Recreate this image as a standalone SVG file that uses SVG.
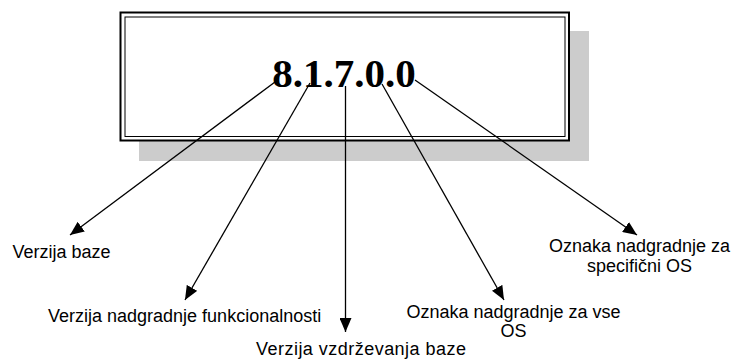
<svg xmlns="http://www.w3.org/2000/svg" width="731" height="360" viewBox="0 0 731 360">
<style>
.lbl{font-family:"Liberation Sans",Arial,sans-serif;font-size:18px;fill:#000}
.con{stroke:#000;stroke-width:1.3;fill:none;marker-end:url(#arr)}
</style>
<defs>
<marker id="arr" viewBox="0 0 14 12" refX="14" refY="6" markerWidth="14" markerHeight="12" markerUnits="userSpaceOnUse" orient="auto">
<path d="M0,0 L14,6 L0,12 z" fill="#000"/>
</marker>
</defs>
<rect width="731" height="360" fill="#fff"/>
<g id="version-box">
<rect x="139" y="31" width="450" height="130" fill="#cccccc"/>
<rect x="120.5" y="12.5" width="448.5" height="128" fill="#fff" stroke="#000" stroke-width="2"/>
<rect x="125" y="17" width="440" height="119.5" fill="none" stroke="#000" stroke-width="1"/>
<text x="344" y="87" text-anchor="middle" font-family="'Liberation Serif','Times New Roman',serif" font-weight="bold" font-size="41">8.1.7.0.0</text>
</g>
<g id="connectors">
<line class="con" x1="275" y1="82" x2="70" y2="235"/>
<line class="con" x1="310" y1="83" x2="185" y2="300"/>
<line class="con" x1="345.5" y1="86" x2="345.5" y2="332"/>
<line class="con" x1="382" y1="84" x2="504" y2="300"/>
<line class="con" x1="415" y1="80" x2="637" y2="235"/>
</g>
<g id="label-baza"><text class="lbl" x="12.5" y="258">Verzija baze</text></g>
<g id="label-funkcionalnost"><text class="lbl" x="48" y="322">Verzija nadgradnje funkcionalnosti</text></g>
<g id="label-vzdrzevanje"><text class="lbl" x="256" y="355" textLength="210" lengthAdjust="spacing">Verzija vzdrževanja baze</text></g>
<g id="label-vse-os"><text class="lbl" x="513.5" y="318" text-anchor="middle">Oznaka nadgradnje za vse</text><text class="lbl" x="513.5" y="337" text-anchor="middle">OS</text></g>
<g id="label-specificni-os"><text class="lbl" x="639.5" y="251.5" text-anchor="middle">Oznaka nadgradnje za</text><text class="lbl" x="639.5" y="271.5" text-anchor="middle">specifični OS</text></g>
</svg>
